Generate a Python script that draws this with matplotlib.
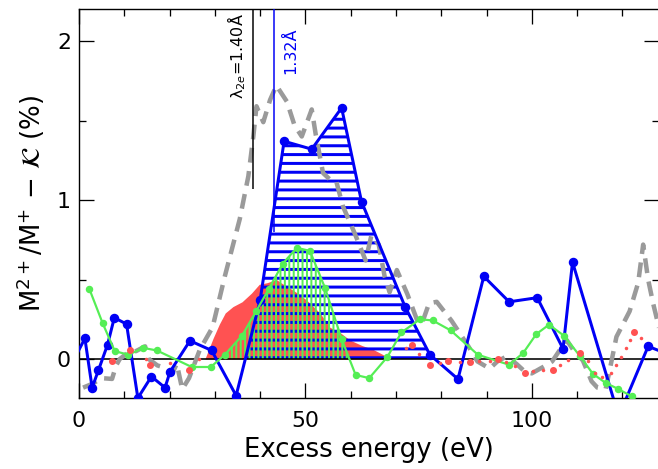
import numpy as np
import matplotlib
matplotlib.use('Agg')
import matplotlib.pyplot as plt
from matplotlib.ticker import MultipleLocator
import matplotlib.transforms as mtrans

# ---------------- data ----------------
blue_x = [-1.6, 1.3, 2.9, 4.3, 6.3, 7.8, 10.5, 13.0, 16.0, 19.0, 20.1, 24.5, 29.3, 34.7,
          40.0, 45.3, 51.4, 58.0, 62.4, 72.0, 77.5, 83.7, 89.4, 95.0, 101.2, 106.9, 109.0,
          119.2, 125.7, 131.0]
blue_y = [-0.03, 0.13, -0.18, -0.07, 0.09, 0.26, 0.22, -0.245, -0.11, -0.18, -0.08, 0.115,
          0.054, -0.23, 0.37, 1.37, 1.32, 1.58, 0.99, 0.33, 0.027, -0.126, 0.52, 0.36, 0.386,
          0.065, 0.61, -0.36, 0.08, 0.02]
blue_peak = (13, 22)   # index range of the hatched peak

green_x = [2.3, 5.2, 7.9, 10.9, 14.2, 17.2, 24.9, 29.1, 32.2, 36.0, 39.1, 41.9, 45.0, 48.1,
           51.0, 54.3, 58.0, 61.1, 64.1, 68.1, 71.2, 75.3, 78.1, 82.1, 88.1, 95.0, 98.1,
           101.0, 103.8, 107.1, 110.6, 113.5, 116.3, 119.0, 122.1, 125.2]
green_y = [0.44, 0.227, 0.05, 0.027, 0.07, 0.054, -0.05, -0.05, 0.027, 0.147, 0.30, 0.44,
           0.60, 0.70, 0.68, 0.45, 0.126, -0.10, -0.12, 0.013, 0.167, 0.25, 0.243, 0.18,
           0.027, -0.036, 0.038, 0.157, 0.216, 0.147, 0.02, -0.093, -0.15, -0.187, -0.235,
           -0.30]
green_peak = (7, 18)

grey_x = [0.9, 3.0, 5.0, 7.3, 8.2, 9.0, 10.8, 12.6, 14.6, 15.4, 17.3, 19.5, 20.6, 21.6, 22.8,
          24.3, 26.7, 29.5, 32.2, 35.5, 37.4, 38.5, 39.2, 40.7, 42.2, 43.6, 45.9, 47.6, 49.2,
          51.4, 52.3, 53.9, 55.4, 56.8, 58.3, 60.9, 63.3, 64.6, 66.2, 67.5, 68.6, 70.2, 72.5,
          74.6, 75.7, 77.3, 79.0, 82.3, 86.0, 88.0, 90.7, 92.4, 94.4, 96.6, 98.5, 100.0,
          102.5, 104.5, 106.5, 107.7, 109.1, 111.3, 113.2, 114.5, 116.3, 117.2, 118.7, 121.6,
          123.5, 124.6, 125.7, 126.8, 128.5]
grey_y = [-0.18, -0.155, -0.12, -0.125, -0.04, 0.0, 0.04, 0.05, 0.08, 0.0, -0.04, -0.06,
          -0.09, -0.03, -0.19, -0.12, 0.06, 0.2, 0.52, 0.88, 1.15, 1.40, 1.59, 1.49, 1.63,
          1.72, 1.62, 1.47, 1.40, 1.57, 1.41, 1.17, 1.13, 1.12, 0.96, 0.79, 0.62, 0.78, 0.72,
          0.52, 0.42, 0.56, 0.41, 0.25, 0.22, 0.35, 0.36, 0.24, 0.08, -0.015, -0.06, -0.015,
          0.016, -0.03, -0.08, -0.09, -0.05, -0.015, 0.07, 0.12, 0.06, -0.01, -0.14, -0.18,
          -0.19, -0.07, 0.14, 0.30, 0.48, 0.72, 0.50, 0.35, 0.15]

red_fill_x = [27.8, 29.6, 31.0, 32.3, 34.0, 36.0, 38.1, 39.8, 41.5, 43.6, 44.6, 46.6, 48.5,
              50.3, 53.2, 55.4, 57.5, 59.8, 62.5, 65.0, 67.0, 69.0]
red_fill_y = [0.0, 0.13, 0.22, 0.29, 0.33, 0.36, 0.415, 0.47, 0.48, 0.50, 0.48, 0.445, 0.41,
              0.37, 0.29, 0.20, 0.17, 0.12, 0.085, 0.06, 0.03, 0.0]

red_big_x = [7.2, 11.3, 15.6, 24.2, 73.6, 77.6, 81.5, 86.4, 92.6, 98.5, 104.6, 110.6, 122.6]
red_big_y = [-0.01, 0.06, -0.04, -0.07, 0.09, -0.04, -0.01, -0.02, 0.0, -0.09, -0.07, 0.04,
             0.17]
red_small_x = [14.9, 20.0, 26.6, 72.2, 75.1, 79.7, 84.1, 88.4, 90.7, 94.4, 96.2, 100.3, 102.4,
               106.2, 108.0, 112.4, 114.0, 115.5, 117.5, 118.7, 119.8, 120.7, 121.6, 124.1]
red_small_y = [0.0, -0.025, 0.0, 0.07, 0.033, -0.025, -0.017, -0.015, -0.015, -0.02, -0.046,
               -0.078, -0.07, -0.036, -0.005, -0.015, -0.085, -0.11, -0.09, -0.036, 0.016,
               0.07, 0.12, 0.13]

lambda_x = [38.4, 43.0]
lambda_ymin = [1.07, 0.80]
lambda_labels = ['λ$_{2e}$=1.40Å', '1.32Å']

x_ticks = [0, 50, 100]
y_ticks = [0, 1, 2]
xlabel = 'Excess energy (eV)'
ylabel = r'M$^{2+}$/M$^{+}$ $-$ $\mathcal{K}$ (%)'

# ---------------- styling ----------------
DPI = 106
W, H = 658, 469


def px(p):
    return p * 72.0 / DPI


BLUE = '#0000F5'
GREEN = '#55EE55'
RED = '#FF5252'
GREY = '#9A9A9A'

plt.rcParams['font.family'] = ['DejaVu Sans']
plt.rcParams['mathtext.fontset'] = 'dejavusans'

fig = plt.figure(figsize=((W + 0.01) / DPI, (H + 0.01) / DPI), dpi=DPI)
ax = fig.add_axes([79 / W, 1 - 398 / H, (659 - 79) / W, (398 - 9.3) / H])
ax.set_xlim(0, 128.1)
ax.set_ylim(-0.245, 2.2)

# red filled peak
ax.fill_between(red_fill_x, 0, red_fill_y, color=RED, lw=0, zorder=1)

# blue horizontally hatched peak
b0, b1 = blue_peak
bx = np.array(blue_x[b0:b1])
by = np.array(blue_y[b0:b1])
plt.rcParams['hatch.linewidth'] = px(3.0)
hb = ax.fill_between(bx, 0, by, where=by >= 0, interpolate=True, facecolor='none',
                     edgecolor=BLUE, hatch='--', lw=0, zorder=2)
try:
    hb.set_hatch_linewidth(px(3.0))
except Exception:
    pass

# green vertically hatched peak
g0, g1 = green_peak
gx = np.array(green_x[g0:g1])
gy = np.array(green_y[g0:g1])
plt.rcParams['hatch.linewidth'] = px(2.0)
hg = ax.fill_between(gx, 0, gy, where=gy >= 0, interpolate=True, facecolor='none',
                     edgecolor=GREEN, hatch='||||', lw=0, zorder=3)
try:
    hg.set_hatch_linewidth(px(2.0))
except Exception:
    pass

# zero line
ax.axhline(0, color='black', lw=px(1.6), zorder=4)

# grey dashed curve
ax.plot(grey_x, grey_y, color=GREY, lw=px(4.5), dashes=(3.3, 1.9),
        dash_capstyle='butt', zorder=5)

# vertical marker lines
ytop = ax.get_ylim()[1]
ax.vlines(lambda_x[0], lambda_ymin[0], ytop, color='black', lw=px(1.5), zorder=5)
ax.vlines(lambda_x[1], lambda_ymin[1], ytop, color=BLUE, lw=px(1.5), zorder=5)

# blue and green lines
ax.plot(blue_x, blue_y, color=BLUE, lw=px(3.0), marker='o', ms=px(8), zorder=6)
ax.plot(green_x, green_y, color=GREEN, lw=px(2.2), marker='o', ms=px(6), zorder=7)

# red dots
ax.scatter(red_big_x, red_big_y, s=px(7) ** 2, color=RED, lw=0, zorder=8)
ax.scatter(red_small_x, red_small_y, s=px(3.5) ** 2, color=RED, lw=0, zorder=8)

# labels for vertical lines
bt = mtrans.blended_transform_factory(ax.transData, ax.transAxes)
ax.annotate(lambda_labels[0], xy=(lambda_x[0], 1.0), xycoords=bt,
            xytext=(px(-16), px(-4)), textcoords='offset points', rotation=90,
            ha='center', va='top', fontsize=px(16), color='black')
ax.annotate(lambda_labels[1], xy=(lambda_x[1], 1.0), xycoords=bt,
            xytext=(px(17), px(-18)), textcoords='offset points', rotation=90,
            ha='center', va='top', fontsize=px(16), color=BLUE)

# axes cosmetics
ax.set_xticks(x_ticks)
ax.set_yticks(y_ticks)
ax.xaxis.set_minor_locator(MultipleLocator(10))
ax.yaxis.set_minor_locator(MultipleLocator(0.5))
ax.tick_params(which='both', direction='in', top=True, right=True, width=px(1.3))
ax.tick_params(which='major', length=px(15))
ax.tick_params(which='minor', length=px(7))
ax.tick_params(axis='x', which='major', pad=px(13), labelsize=px(22))
ax.tick_params(axis='y', which='major', pad=px(8), labelsize=px(22))
for s in ax.spines.values():
    s.set_linewidth(px(1.4))

ax.set_xlabel(xlabel, fontsize=px(26), labelpad=px(6))
ax.set_ylabel(ylabel, fontsize=px(26), labelpad=px(10))

fig.savefig('out.png', dpi=DPI)
